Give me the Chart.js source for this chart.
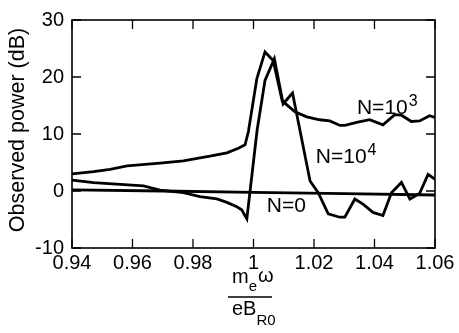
<!DOCTYPE html>
<html>
<head>
<meta charset="utf-8">
<script src="https://cdn.jsdelivr.net/npm/chart.js@4/dist/chart.umd.min.js"></script>
<style>
  html, body { margin: 0; padding: 0; background: #fff; }
  #wrap { width: 459px; height: 333px; }
</style>
</head>
<body>
<div id="wrap"><canvas id="c" width="459" height="333"></canvas></div>
<script>
// ---- data ----
const xTickValues = [0.94, 0.96, 0.98, 1.00, 1.02, 1.04, 1.06];
const xTickLabels = ['0.94', '0.96', '0.98', '1', '1.02', '1.04', '1.06'];
const yTickValues = [-10, 0, 10, 20, 30];
const yTickLabels = ['-10', '0', '10', '20', '30'];

const n1e3X = [0.94, 0.9471, 0.9526, 0.9582, 0.9691, 0.9768, 0.9856, 0.9912, 0.9950, 0.9972, 0.9983, 1.0011, 1.0038, 1.0065, 1.0095, 1.0137, 1.0176, 1.0219, 1.0252, 1.0286, 1.0302, 1.0341, 1.0384, 1.0428, 1.0467, 1.0489, 1.0522, 1.0549, 1.0582, 1.06];
const n1e3Y = [3.0, 3.4, 3.8, 4.4, 4.9, 5.3, 6.1, 6.7, 7.5, 8.1, 10.4, 19.7, 24.4, 22.9, 15.8, 13.9, 13.0, 12.5, 12.3, 11.5, 11.5, 12.05, 12.5, 11.6, 13.4, 13.3, 12.2, 12.3, 13.2, 12.9];

const n1e4X = [0.94, 0.9471, 0.9636, 0.9691, 0.9768, 0.9823, 0.9879, 0.9912, 0.9945, 0.9961, 0.9978, 1.0012, 1.0038, 1.0069, 1.0098, 1.0129, 1.0187, 1.0214, 1.0247, 1.0285, 1.0302, 1.0335, 1.0362, 1.0395, 1.0428, 1.0456, 1.0489, 1.0517, 1.0549, 1.0577, 1.06];
const n1e4Y = [1.9, 1.46, 0.9, 0.14, -0.28, -1.0, -1.4, -2.0, -2.76, -3.3, -4.9, 10.7, 19.4, 23.2, 15.3, 17.2, 1.75, -0.3, -4.0, -4.6, -4.6, -1.4, -2.3, -3.75, -4.3, -0.3, 1.5, -1.4, -0.45, 2.9, 2.05];

const n0X = [0.94, 0.97, 1.00, 1.03, 1.06];
const n0Y = [0.2, 0.0, -0.25, -0.45, -0.7];

const seriesLabels = ['N=10^3', 'N=10^4', 'N=0'];

function pts(xs, ys) { return xs.map((x, i) => ({ x: x, y: ys[i] })); }

const FONT = '"Liberation Sans", Arial, Helvetica, sans-serif';

const decor = {
  id: 'decor',
  afterDatasetsDraw(chart) {
    const { ctx, chartArea: a, scales } = chart;
    const xs = scales.x, ys = scales.y;
    ctx.save();
    // frame
    ctx.strokeStyle = '#000';
    ctx.lineWidth = 1.6;
    ctx.strokeRect(a.left, a.top, a.right - a.left, a.bottom - a.top);
    // inward ticks
    const TL = 9;
    ctx.lineWidth = 1.3;
    ctx.beginPath();
    xTickValues.forEach(v => {
      const px = xs.getPixelForValue(v);
      ctx.moveTo(px, a.bottom); ctx.lineTo(px, a.bottom - TL);
      ctx.moveTo(px, a.top); ctx.lineTo(px, a.top + TL);
    });
    yTickValues.forEach(v => {
      const py = ys.getPixelForValue(v);
      ctx.moveTo(a.left, py); ctx.lineTo(a.left + TL, py);
      ctx.moveTo(a.right, py); ctx.lineTo(a.right - TL, py);
    });
    ctx.stroke();

    ctx.fillStyle = '#000';
    ctx.textAlign = 'left';
    ctx.textBaseline = 'alphabetic';
    // series labels (anchored in data coordinates)
    function lab(xv, yv, main, sup) {
      const px = xs.getPixelForValue(xv), py = ys.getPixelForValue(yv);
      ctx.font = '21px ' + FONT;
      ctx.fillText(main, px, py);
      if (sup) {
        const w = ctx.measureText(main).width;
        ctx.font = '16px ' + FONT;
        ctx.fillText(sup, px + w + 1, py - 8);
      }
    }
    lab(1.0342, 13.5, 'N=10', '3');
    lab(1.0206, 4.9, 'N=10', '4');
    lab(1.0044, -3.65, 'N=0', '');

    // y axis title
    ctx.save();
    ctx.translate(24, (a.top + a.bottom) / 2 - 4);
    ctx.rotate(-Math.PI / 2);
    ctx.textAlign = 'center';
    ctx.font = '21.5px ' + FONT;
    ctx.fillText('Observed power (dB)', 0, 0);
    ctx.restore();

    // x axis title: fraction  m_e ω / eB_R0
    ctx.textAlign = 'left';
    const x0 = 228;
    ctx.font = '20px ' + FONT;
    ctx.fillText('m', x0 + 4, 283);
    let w = ctx.measureText('m').width;
    ctx.font = '15px ' + FONT;
    ctx.fillText('e', x0 + 4 + w, 291);
    const w2 = ctx.measureText('e').width;
    ctx.font = '20px ' + FONT;
    ctx.fillText('\u03C9', x0 + 4 + w + w2 + 1, 281.5);
    ctx.lineWidth = 1.5;
    ctx.beginPath();
    ctx.moveTo(x0, 297); ctx.lineTo(x0 + 44, 297);
    ctx.stroke();
    ctx.font = '20px ' + FONT;
    ctx.fillText('eB', x0 + 4, 315);
    w = ctx.measureText('eB').width;
    ctx.font = '15px ' + FONT;
    ctx.fillText('R0', x0 + 4 + w, 325);
    ctx.restore();
  }
};

new Chart(document.getElementById('c'), {
  type: 'line',
  data: {
    datasets: [
      { label: seriesLabels[0], data: pts(n1e3X, n1e3Y) },
      { label: seriesLabels[1], data: pts(n1e4X, n1e4Y) },
      { label: seriesLabels[2], data: pts(n0X, n0Y) }
    ].map(d => Object.assign(d, {
      borderColor: '#000', borderWidth: 2.8, pointRadius: 0, tension: 0,
      fill: false, borderJoinStyle: 'miter', borderCapStyle: 'butt'
    }))
  },
  options: {
    responsive: false,
    animation: false,
    layout: { padding: { top: 14, right: 24, left: 0, bottom: 0 } },
    plugins: { legend: { display: false }, tooltip: { enabled: false } },
    scales: {
      x: {
        type: 'linear', min: 0.94, max: 1.06,
        grid: { display: false, drawTicks: false }, border: { display: false },
        afterBuildTicks: s => { s.ticks = xTickValues.map(v => ({ value: v })); },
        afterFit: s => { s.height = 85; },
        ticks: {
          color: '#000', padding: 3, maxRotation: 0, autoSkip: false,
          font: { size: 20, family: FONT },
          callback: (v, i) => xTickLabels[i]
        }
      },
      y: {
        type: 'linear', min: -10, max: 30,
        grid: { display: false, drawTicks: false }, border: { display: false },
        afterBuildTicks: s => { s.ticks = yTickValues.map(v => ({ value: v })); },
        afterFit: s => { s.width = 72; },
        ticks: {
          color: '#000', padding: 8, autoSkip: false,
          font: { size: 20, family: FONT },
          callback: (v, i) => yTickLabels[i]
        }
      }
    }
  },
  plugins: [decor]
});
</script>
</body>
</html>
